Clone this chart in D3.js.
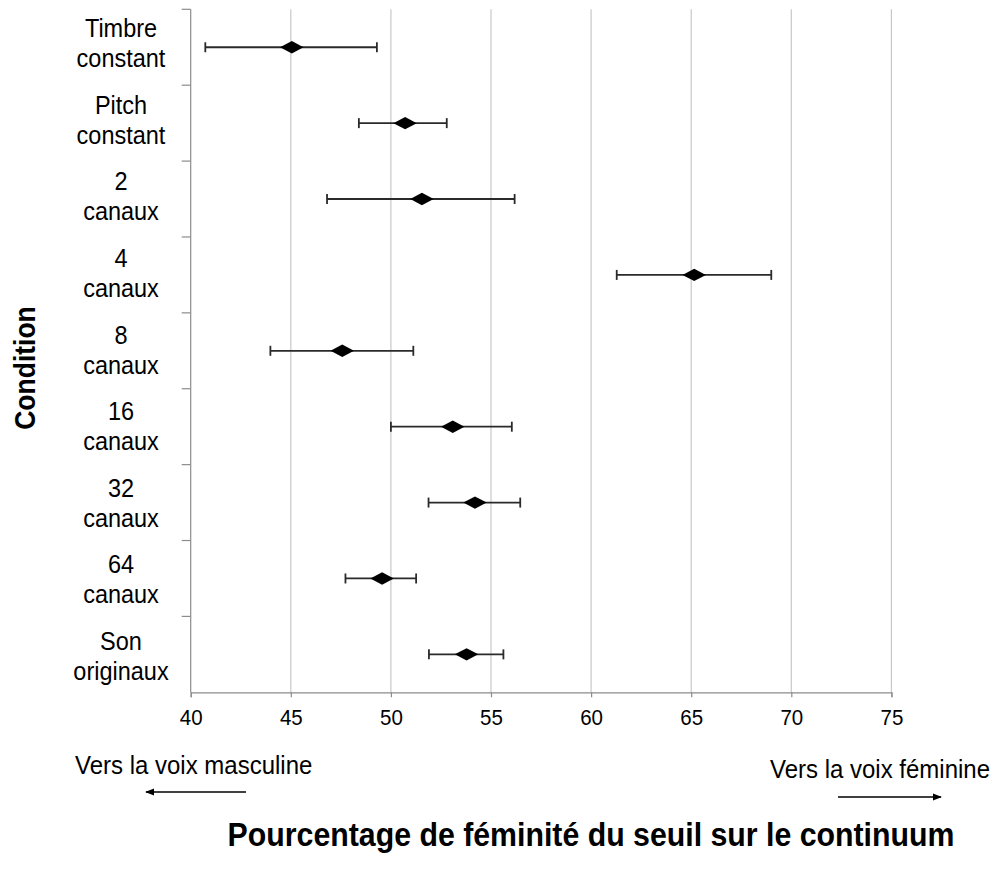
<!DOCTYPE html>
<html>
<head>
<meta charset="utf-8">
<script src="https://cdn.jsdelivr.net/npm/d3@7"></script>
<style>
  html, body { margin: 0; padding: 0; background: #fff; }
  svg { display: block; font-family: "Liberation Sans", Arial, sans-serif; }
</style>
</head>
<body>
<svg id="chart" width="994" height="876"></svg>
<script>
// ---- data ----
const categories = ["Timbre constant", "Pitch constant", "2 canaux", "4 canaux", "8 canaux",
                    "16 canaux", "32 canaux", "64 canaux", "Son originaux"];
const categoryLines = [["Timbre", "constant"], ["Pitch", "constant"], ["2", "canaux"], ["4", "canaux"],
                       ["8", "canaux"], ["16", "canaux"], ["32", "canaux"], ["64", "canaux"], ["Son", "originaux"]];
const means = [45.05, 50.71, 51.55, 65.15, 47.57, 53.09, 54.2, 49.56, 53.78];
const lower = [40.73, 48.4, 46.81, 61.28, 43.98, 50.0, 51.88, 47.73, 51.9];
const upper = [49.3, 52.79, 56.18, 69.0, 51.12, 56.04, 56.46, 51.26, 55.62];
const xTicks = [40, 45, 50, 55, 60, 65, 70, 75];
const xTitle = "Pourcentage de féminité du seuil sur le continuum";
const yTitle = "Condition";
const leftNote = "Vers la voix masculine";
const rightNote = "Vers la voix féminine";

// ---- layout ----
const svg = d3.select("#chart");
const plot = { left: 190.7, right: 891.4, top: 9.3, bottom: 692.3 };
const STRETCH = 1.08; // reference text is slightly taller than wide

const x = d3.scaleLinear().domain([40, 75]).range([plot.left, plot.right]);
const y = d3.scaleBand().domain(categories).range([plot.top, plot.bottom]).padding(0);
const labelY = d3.scalePoint().domain(categories).range([37, 650]);

function stretchedText(parent, tx, ty, str, extra) {
  return parent.append("text")
    .attr("transform", `translate(${tx},${ty}) ${extra || ""} scale(1,${STRETCH})`)
    .text(str);
}

// gridlines
svg.append("g").selectAll("line").data(xTicks.filter(t => t > 40)).join("line")
  .attr("x1", d => x(d)).attr("x2", d => x(d))
  .attr("y1", plot.top).attr("y2", plot.bottom)
  .attr("stroke", "#c8c8c8").attr("stroke-width", 1.2);

// x axis
const xAxis = d3.axisBottom(x).tickValues(xTicks).tickSize(5).tickPadding(12).tickFormat(d3.format("d"));
const gx = svg.append("g").attr("transform", `translate(0,${plot.bottom})`).call(xAxis);
gx.select(".domain").attr("stroke", "#8c8c8c").attr("stroke-width", 1.2);
gx.selectAll(".tick line").attr("stroke", "#8c8c8c").attr("stroke-width", 1.2);
gx.selectAll(".tick text").attr("font-size", 20.5).attr("fill", "#000")
  .attr("font-family", "'Liberation Sans', Arial, sans-serif")
  .attr("dy", null).attr("y", null)
  .attr("transform", `translate(0,33) scale(1,${STRETCH})`);

// y axis (ticks at band boundaries)
const boundaries = categories.map(c => y(c));
svg.append("line")
  .attr("x1", plot.left).attr("x2", plot.left)
  .attr("y1", plot.top).attr("y2", plot.bottom)
  .attr("stroke", "#8c8c8c").attr("stroke-width", 1.2);
svg.append("g").selectAll("line").data(boundaries).join("line")
  .attr("x1", plot.left - 9).attr("x2", plot.left)
  .attr("y1", d => d).attr("y2", d => d)
  .attr("stroke", "#8c8c8c").attr("stroke-width", 1.2);

// category labels
const lab = svg.append("g").attr("font-size", 23.5).attr("fill", "#000").attr("text-anchor", "middle");
categories.forEach((c, i) => {
  categoryLines[i].forEach((t, j) => {
    stretchedText(lab, 121, labelY(c) + j * 30, t);
  });
});

// error bars
const rows = categories.map((c, i) => ({ c, m: means[i], lo: lower[i], hi: upper[i] }));
const eb = svg.append("g").attr("stroke", "#2a2a2a").attr("stroke-width", 1.8);
rows.forEach(r => {
  const cy = y(r.c) + y.bandwidth() / 2;
  eb.append("line").attr("x1", x(r.lo)).attr("x2", x(r.hi)).attr("y1", cy).attr("y2", cy);
  eb.append("line").attr("x1", x(r.lo)).attr("x2", x(r.lo)).attr("y1", cy - 5).attr("y2", cy + 5);
  eb.append("line").attr("x1", x(r.hi)).attr("x2", x(r.hi)).attr("y1", cy - 5).attr("y2", cy + 5);
});

// diamonds
svg.append("g").selectAll("path").data(rows).join("path")
  .attr("transform", d => `translate(${x(d.m)},${y(d.c) + y.bandwidth() / 2})`)
  .attr("d", "M-11.7,0L0,-6.2L11.7,0L0,6.2Z")
  .attr("fill", "#000");

// axis titles
const tg = svg.append("g").attr("font-weight", "bold").attr("text-anchor", "middle");
stretchedText(tg, 591, 846, xTitle).attr("font-size", 30.3);
stretchedText(tg, 35, 368, yTitle, "rotate(-90)").attr("font-size", 26.5);

// direction notes
const ng = svg.append("g").attr("font-size", 24);
stretchedText(ng, 75, 774, leftNote);
stretchedText(ng, 770, 778, rightNote);

// arrows
const defs = svg.append("defs");
defs.append("marker").attr("id", "ah").attr("viewBox", "0 0 10 10")
  .attr("refX", 9).attr("refY", 5).attr("markerWidth", 6).attr("markerHeight", 6)
  .attr("orient", "auto-start-reverse")
  .append("path").attr("d", "M0,1L10,5L0,9Z").attr("fill", "#000");
svg.append("line").attr("x1", 246).attr("x2", 146).attr("y1", 792).attr("y2", 792)
  .attr("stroke", "#000").attr("stroke-width", 1.5).attr("marker-end", "url(#ah)");
svg.append("line").attr("x1", 838).attr("x2", 941).attr("y1", 797).attr("y2", 797)
  .attr("stroke", "#000").attr("stroke-width", 1.5).attr("marker-end", "url(#ah)");
</script>
</body>
</html>
